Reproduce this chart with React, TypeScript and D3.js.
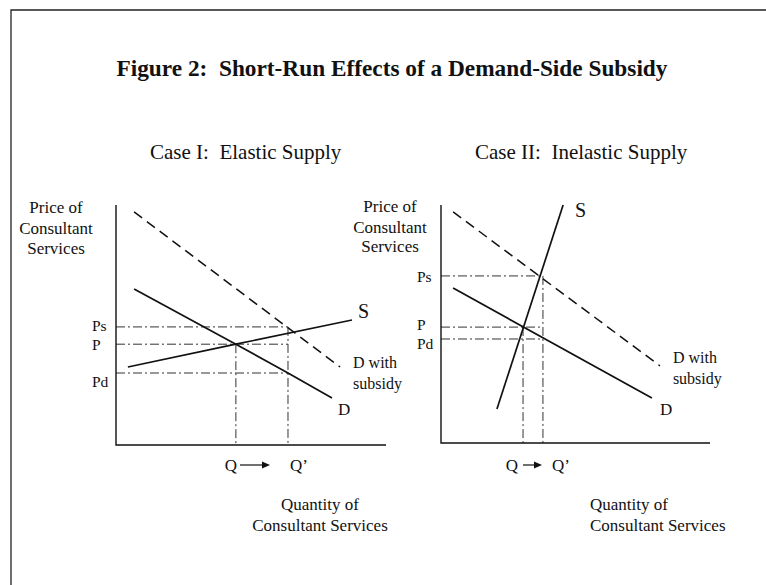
import * as d3 from "d3";

// Case I: elastic supply (quantity, price on a 0-10 scale)
const elasticSupply: [number, number][] = [[0.44, 3.25], [4.44, 4.2], [8.74, 5.21]];
const elasticDemand: [number, number][] = [[0.67, 6.5], [4.44, 4.2], [6.37, 3.0], [8.0, 1.96]];
const elasticSubsidyDemand: [number, number][] = [[0.67, 9.71], [8.3, 3.25]];
const elasticPriceLevels = [4.92, 4.2, 3.0]; // Ps, P, Pd
const elasticQuantities = [4.44, 6.37]; // Q, Q'

// Case II: inelastic supply
const inelasticSupply: [number, number][] = [[2.08, 1.43], [4.54, 10.0]];
const inelasticDemand: [number, number][] = [[0.45, 6.51], [7.84, 1.89]];
const inelasticSubsidyDemand: [number, number][] = [[0.45, 9.71], [8.14, 3.24]];
const inelasticPriceLevels = [7.02, 4.87, 4.37];
const inelasticQuantities = [3.05, 3.79];

const priceLabels = ["Ps", "P", "Pd"];
const yTitle = ["Price of", "Consultant", "Services"];
const xTitle = ["Quantity of", "Consultant Services"];

const FONT = "'Liberation Serif', 'Times New Roman', serif";
const INK = "#111";
const DASH_DOT = "9,3,2,3";

type PanelProps = {
	title: string;
	titleX: number;
	x0: number;
	x1: number;
	yTop: number;
	yBottom: number;
	supply: [number, number][];
	demand: [number, number][];
	subsidy: [number, number][];
	prices: number[];
	quantities: number[];
	priceLabelX: number;
	priceLabelDy: number[];
	yTitleX: number;
	yTitleY: number[];
	sLabel: [number, number];
	dWithLabel: [number, number];
	dLabel: [number, number];
	qLabel: { q: number; a0: number; a1: number; qp: number };
	xTitleX: number;
	xTitleAnchor: "start" | "middle";
};

function Panel(p: PanelProps) {
	const x = d3.scaleLinear().domain([0, 10]).range([p.x0, p.x1]);
	const y = d3.scaleLinear().domain([0, 10]).range([p.yBottom, p.yTop]);
	const line = d3
		.line<[number, number]>()
		.x((d) => x(d[0]))
		.y((d) => y(d[1]));
	const [ps, pe] = [p.prices[0], p.prices[1]];
	const [q, qp] = p.quantities;

	return (
		<g fontFamily={FONT} fill={INK}>
			<text x={p.titleX} y={159} fontSize={21} style={{ whiteSpace: "pre" }}>
				{p.title}
			</text>

			{/* y title */}
			{yTitle.map((t, i) => (
				<text key={t} x={p.yTitleX} y={p.yTitleY[i]} fontSize={17} textAnchor="middle">
					{t}
				</text>
			))}

			{/* guide lines */}
			<g stroke="#333" strokeWidth={1} strokeDasharray={DASH_DOT} fill="none">
				{p.prices.map((v, i) => (
					<line key={i} x1={x(0)} x2={x(qp)} y1={y(v)} y2={y(v)} />
				))}
				<line x1={x(q)} x2={x(q)} y1={y(pe)} y2={y(0)} />
				<line x1={x(qp)} x2={x(qp)} y1={y(ps)} y2={y(0)} />
			</g>

			{/* axes */}
			<path
				d={`M${x(0)},${y(10)}V${y(0)}H${x(10)}`}
				stroke={INK}
				strokeWidth={1.4}
				fill="none"
			/>

			{/* curves */}
			<path d={line(p.subsidy) ?? ""} stroke={INK} strokeWidth={1.5} strokeDasharray="10,6" fill="none" />
			<path d={line(p.demand) ?? ""} stroke={INK} strokeWidth={1.7} fill="none" />
			<path d={line(p.supply) ?? ""} stroke={INK} strokeWidth={1.7} fill="none" />

			{/* price labels */}
			{priceLabels.map((t, i) => (
				<text key={t} x={p.priceLabelX} y={y(p.prices[i]) + p.priceLabelDy[i]} fontSize={15.5}>
					{t}
				</text>
			))}

			{/* curve labels */}
			<text x={x(p.sLabel[0])} y={y(p.sLabel[1])} fontSize={20}>
				S
			</text>
			<text x={x(p.dWithLabel[0])} y={y(p.dWithLabel[1])} fontSize={16}>
				D with
			</text>
			<text x={x(p.dWithLabel[0])} y={y(p.dWithLabel[1]) + 21} fontSize={16}>
				subsidy
			</text>
			<text x={x(p.dLabel[0])} y={y(p.dLabel[1])} fontSize={17}>
				D
			</text>

			{/* Q -> Q' */}
			<text x={p.qLabel.q} y={471} fontSize={17} textAnchor="middle">
				Q
			</text>
			<line x1={p.qLabel.a0} x2={p.qLabel.a1 - 6} y1={465} y2={465} stroke={INK} strokeWidth={1.2} />
			<path
				d={`M${p.qLabel.a1},465L${p.qLabel.a1 - 8},461.5L${p.qLabel.a1 - 8},468.5Z`}
				fill={INK}
			/>
			<text x={p.qLabel.qp} y={471} fontSize={17}>
				Q’
			</text>

			{/* x title */}
			{xTitle.map((t, i) => (
				<text key={t} x={p.xTitleX} y={510 + i * 21} fontSize={17} textAnchor={p.xTitleAnchor}>
					{t}
				</text>
			))}
		</g>
	);
}

export default function App() {
	return (
		<svg
			width={766}
			height={585}
			style={{ position: "absolute", left: 0, top: 0, background: "#fff" }}
		>
			<rect width={766} height={585} fill="#fff" />
			{/* frame */}
			<path d="M11,585V10H766" stroke="#222" strokeWidth={1.3} fill="none" />

			<text
				x={392}
				y={76}
				fontFamily={FONT}
				fontWeight="bold"
				fontSize={23.3}
				textAnchor="middle"
				fill={INK}
				style={{ whiteSpace: "pre" }}
			>
				Figure 2:  Short-Run Effects of a Demand-Side Subsidy
			</text>

			<Panel
				title="Case I:  Elastic Supply"
				titleX={150}
				x0={116}
				x1={386}
				yTop={205}
				yBottom={445}
				supply={elasticSupply}
				demand={elasticDemand}
				subsidy={elasticSubsidyDemand}
				prices={elasticPriceLevels}
				quantities={elasticQuantities}
				priceLabelX={92}
				priceLabelDy={[4, 6, 14]}
				yTitleX={56}
				yTitleY={[213, 234, 254]}
				sLabel={[8.96, 5.29]}
				dWithLabel={[8.78, 3.21]}
				dLabel={[8.22, 1.25]}
				qLabel={{ q: 231, a0: 240, a1: 270, qp: 290 }}
				xTitleX={320}
				xTitleAnchor="middle"
			/>
			<Panel
				title="Case II:  Inelastic Supply"
				titleX={475}
				x0={441}
				x1={710}
				yTop={205}
				yBottom={443}
				supply={inelasticSupply}
				demand={inelasticDemand}
				subsidy={inelasticSubsidyDemand}
				prices={inelasticPriceLevels}
				quantities={inelasticQuantities}
				priceLabelX={417}
				priceLabelDy={[6, 3, 10]}
				yTitleX={390}
				yTitleY={[212, 233, 252]}
				sLabel={[4.98, 9.5]}
				dWithLabel={[8.62, 3.36]}
				dLabel={[8.14, 1.18]}
				qLabel={{ q: 512, a0: 523, a1: 542, qp: 552 }}
				xTitleX={590}
				xTitleAnchor="start"
			/>
		</svg>
	);
}
